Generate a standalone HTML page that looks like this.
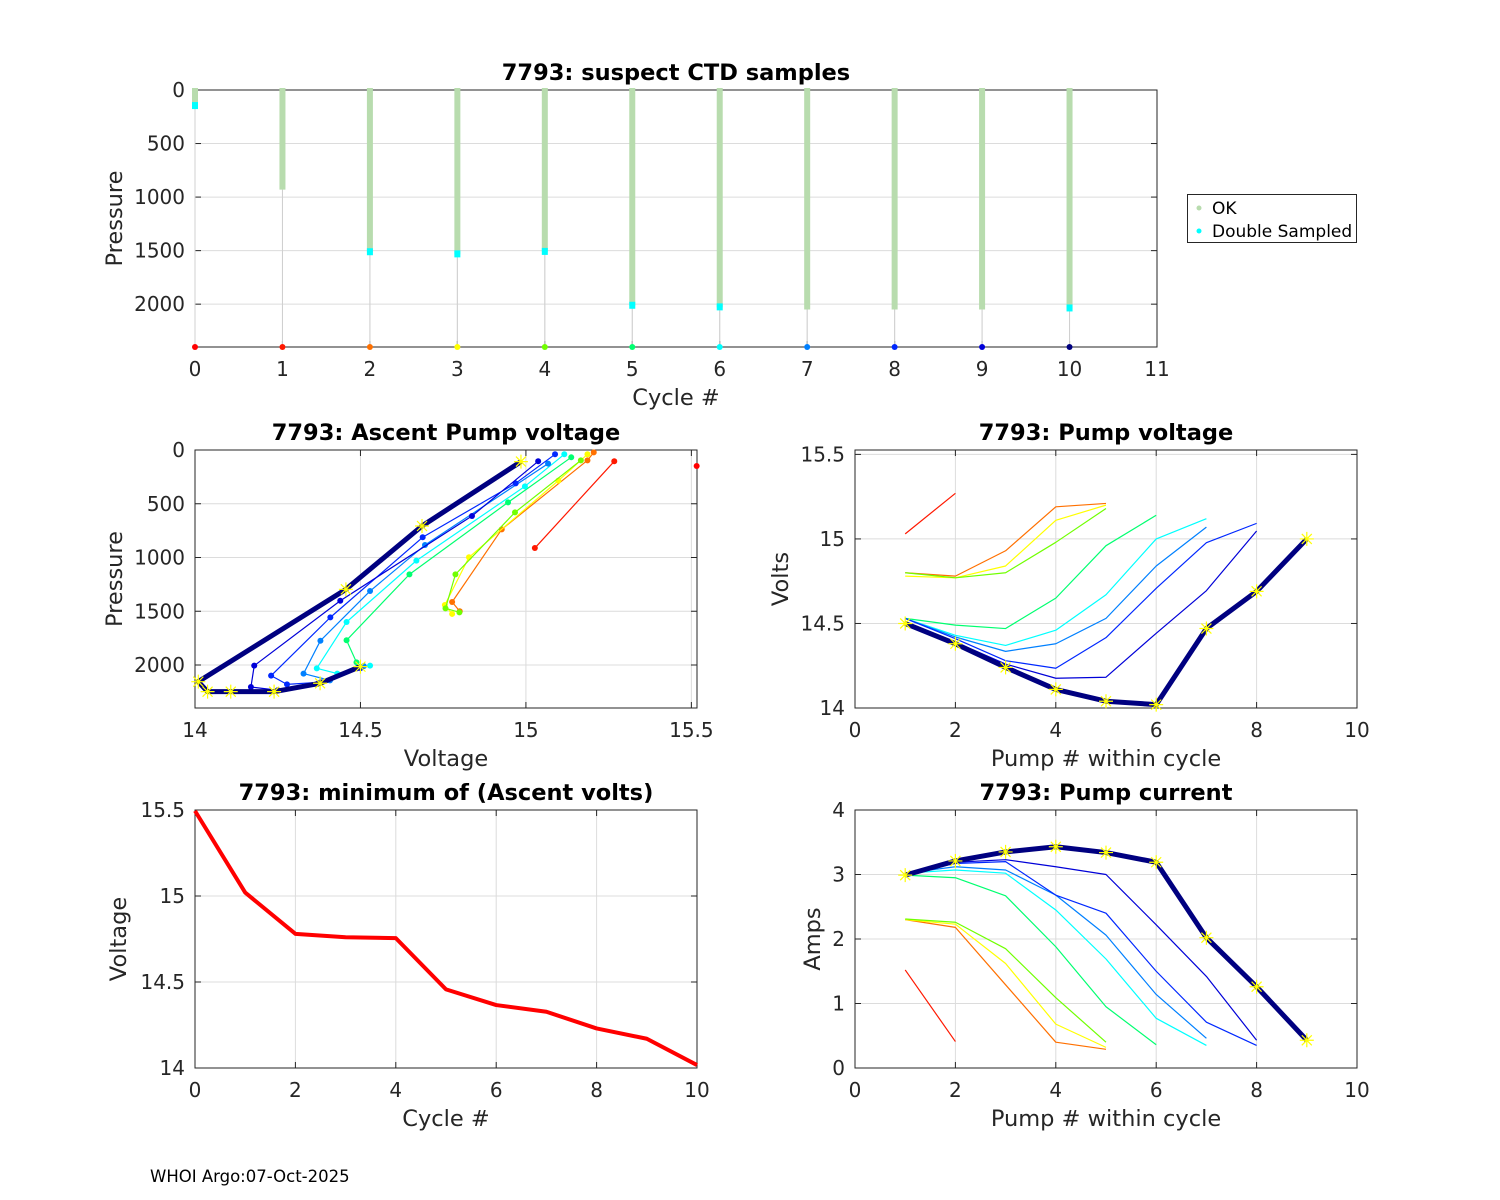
<!DOCTYPE html>
<html><head><meta charset="utf-8">
<style>
html,body{margin:0;padding:0;background:#fff;}
svg{display:block;font-family:"DejaVu Sans","Liberation Sans",sans-serif;}
</style></head>
<body>
<svg id="fig" width="1500" height="1200" viewBox="0 0 1500 1200" xmlns="http://www.w3.org/2000/svg">
<rect width="1500" height="1200" fill="#fff"/>
<text x="150" y="1182" font-size="16.5" fill="#000">WHOI Argo:07-Oct-2025</text>
</svg>
<script>
// ---------- data ----------
const cycles = [0,1,2,3,4,5,6,7,8,9,10];
const cycleColors = ['#ff0000','#ff1800','#ff7000','#ffff00','#70ff00','#00ff70','#00ffff','#0080ff','#0028ff','#0000d8','#000080'];
const okMaxP = [150,930,1515,1535,1512,2015,2030,2050,2050,2050,2040];
const dblP = [150,null,1515,1535,1512,2015,2030,null,null,null,2040];
const ascV = [
 [15.516],
 [15.027,15.267],
 [14.80,14.777,14.927,15.186,15.205],
 [14.777,14.755,14.828,15.098,15.186],
 [14.799,14.757,14.787,14.967,15.166],
 [14.50,14.488,14.458,14.648,14.946,15.137],
 [14.529,14.43,14.368,14.458,14.669,14.997,15.116],
 [14.51,14.408,14.328,14.379,14.529,14.695,15.067],
 [14.50,14.38,14.278,14.23,14.409,14.688,14.969,15.088],
 [14.49,14.37,14.25,14.169,14.179,14.439,14.837,15.037],
 [14.50,14.378,14.239,14.108,14.038,14.01,14.456,14.686,14.985]
];
const ascP = [
 [149],
 [912,105],
 [1500,1414,738,96,22],
 [1525,1442,998,285,40],
 [1510,1473,1157,580,96],
 [2020,1975,1770,1157,487,68],
 [2006,2080,2031,1600,1029,338,40],
 [2010,2143,2080,1774,1312,884,127],
 [2030,2160,2180,2099,1557,812,310,40],
 [2030,2175,2235,2205,2006,1402,614,105],
 [2015,2170,2248,2248,2248,2155,1296,707,108]
];
const pumpV = [
 [],
 [15.03,15.27],
 [14.80,14.78,14.93,15.19,15.21],
 [14.78,14.77,14.84,15.11,15.20],
 [14.80,14.77,14.80,14.98,15.18],
 [14.53,14.49,14.47,14.65,14.96,15.14],
 [14.53,14.43,14.37,14.46,14.67,15.00,15.12],
 [14.53,14.42,14.335,14.38,14.53,14.84,15.07],
 [14.53,14.41,14.28,14.235,14.416,14.708,14.978,15.092],
 [14.51,14.39,14.26,14.176,14.182,14.442,14.694,15.047],
 [14.50,14.38,14.24,14.11,14.04,14.02,14.47,14.69,15.00]
];
const pumpA = [
 [],
 [1.52,0.41],
 [2.30,2.18,1.29,0.40,0.29],
 [2.30,2.23,1.62,0.68,0.32],
 [2.31,2.26,1.85,1.09,0.40],
 [2.99,2.95,2.67,1.88,0.95,0.36],
 [3.02,3.07,3.02,2.45,1.69,0.77,0.35],
 [3.02,3.12,3.07,2.68,2.06,1.14,0.46],
 [3.02,3.17,3.20,2.68,2.40,1.50,0.71,0.35],
 [3.02,3.19,3.23,3.12,3.00,2.22,1.42,0.43],
 [2.99,3.21,3.35,3.43,3.34,3.19,2.02,1.26,0.43]
];
const minVolts = [15.495,15.02,14.78,14.76,14.755,14.457,14.366,14.327,14.23,14.17,14.017];
const pTicks = [0,500,1000,1500,2000];
const cycTicks = [0,1,2,3,4,5,6,7,8,9,10,11];
const voltTicks = [14,14.5,15,15.5];
const voltTickLabels = ['14','14.5','15','15.5'];
const pumpTicks = [0,2,4,6,8,10];
const ampTicks = [0,1,2,3,4];

// ---------- helpers ----------
const NS='http://www.w3.org/2000/svg';
const svg=document.getElementById('fig');
function mk(tag,attrs,parent){const e=document.createElementNS(NS,tag);for(const k in attrs)e.setAttribute(k,attrs[k]);(parent||svg).appendChild(e);return e;}
function axes(o){
  const g=mk('g',{});
  
  
  const sx=v=>o.x0+(v-o.xmin)/(o.xmax-o.xmin)*(o.x1-o.x0);
  const sy=o.rev?(v=>o.y0+(v-o.ymin)/(o.ymax-o.ymin)*(o.y1-o.y0)):(v=>o.y1-(v-o.ymin)/(o.ymax-o.ymin)*(o.y1-o.y0));
  o.xt.forEach(t=>{const x=sx(t);mk('line',{x1:x,x2:x,y1:o.y0,y2:o.y1,stroke:'#dcdcdc','stroke-width':1},g);});
  o.yt.forEach(t=>{const y=sy(t);mk('line',{x1:o.x0,x2:o.x1,y1:y,y2:y,stroke:'#dcdcdc','stroke-width':1},g);});
  const front=mk('g',{},g);
  mk('rect',{x:o.x0,y:o.y0,width:o.x1-o.x0,height:o.y1-o.y0,fill:'none',stroke:'#262626','stroke-width':1},front);
  const data=mk('g',{},g);
  o.xt.forEach((t,i)=>{const x=sx(t);
    mk('line',{x1:x,x2:x,y1:o.y1,y2:o.y1-6,stroke:'#262626'},front);
    mk('line',{x1:x,x2:x,y1:o.y0,y2:o.y0+6,stroke:'#262626'},front);
    const tx=mk('text',{x:x,y:o.y1+29,'font-size':20,'text-anchor':'middle',fill:'#262626'},front);
    
    
    tx.textContent=o.xl?o.xl[i]:String(t);});
  o.yt.forEach((t,i)=>{const y=sy(t);
    mk('line',{x1:o.x0,x2:o.x0+6,y1:y,y2:y,stroke:'#262626'},front);
    mk('line',{x1:o.x1,x2:o.x1-6,y1:y,y2:y,stroke:'#262626'},front);
    const tx=mk('text',{x:o.x0-10,y:y+7,'font-size':20,'text-anchor':'end',fill:'#262626'},front);
    
    
    tx.textContent=o.yl?o.yl[i]:String(t);});
  const ti=mk('text',{x:(o.x0+o.x1)/2,y:o.y0-10,'font-size':22.5,'font-weight':'bold','text-anchor':'middle',fill:'#000'},front);
  
  
  ti.textContent=o.title;
  const xlab=mk('text',{x:(o.x0+o.x1)/2,y:o.y1+58,'font-size':22.5,'text-anchor':'middle',fill:'#262626'},front);
  
  
  xlab.textContent=o.xlabel;
  const yc=(o.y0+o.y1)/2;
  const ylab=mk('text',{x:o.ylx,y:yc,'font-size':22.5,'text-anchor':'middle',fill:'#262626',transform:`rotate(-90 ${o.ylx} ${yc})`},front);
  
  
  ylab.textContent=o.ylabel;
  return {sx,sy,data};
}
function star(g,x,y){
  const s=7;const p=`M${x-s},${y}L${x+s},${y}M${x},${y-s}L${x},${y+s}M${x-5},${y-5}L${x+5},${y+5}M${x-5},${y+5}L${x+5},${y-5}`;
  const e=mk('path',{d:p,stroke:'#ffff00','stroke-width':1.2,fill:'none'},g);
  
  
}

// ---------- panel 1 ----------
const a1=axes({name:'suspect-ctd-chart',x0:195,x1:1157,y0:90,y1:347,xmin:0,xmax:11,ymin:0,ymax:2400,rev:true,xt:cycTicks,yt:pTicks,title:'7793: suspect CTD samples',xlabel:'Cycle #',ylabel:'Pressure',ylx:122});
cycles.forEach(c=>{
  const x=a1.sx(c);
  const gl=mk('line',{x1:x,x2:x,y1:a1.sy(okMaxP[c]),y2:a1.sy(2400),stroke:'#d0d0d0','stroke-width':1},a1.data);
  
  
  const b=mk('line',{x1:x,x2:x,y1:a1.sy(0)-2,y2:a1.sy(okMaxP[c]),stroke:'#b8dcae','stroke-width':6},a1.data);
  
  
  if(dblP[c]!==null){
    const d=mk('rect',{x:x-3,y:a1.sy(dblP[c])-4,width:6,height:7,fill:'#00ffff'},a1.data);
    
    
  }
  const dot=mk('circle',{cx:x,cy:a1.sy(2400),r:3,fill:cycleColors[c]},a1.data);
  
  
});
const lg=mk('g',{});


mk('rect',{x:1187.5,y:194.5,width:169,height:48,fill:'#fff',stroke:'#262626'},lg);
mk('circle',{cx:1199,cy:208,r:2.5,fill:'#b8dcae'},lg);
mk('circle',{cx:1199,cy:231,r:2.5,fill:'#00ffff'},lg);
const l1=mk('text',{x:1212,y:214,'font-size':17,fill:'#000'},lg);l1.textContent='OK';


const l2=mk('text',{x:1212,y:237,'font-size':17,fill:'#000'},lg);l2.textContent='Double Sampled';



// ---------- panel 2 ----------
const a2=axes({name:'ascent-pump-voltage-chart',x0:195,x1:697,y0:450,y1:708,xmin:14,xmax:15.517,ymin:0,ymax:2400,rev:true,xt:voltTicks,xl:voltTickLabels,yt:pTicks,title:'7793: Ascent Pump voltage',xlabel:'Voltage',ylabel:'Pressure',ylx:122});
cycles.forEach(c=>{
  const pts=ascV[c].map((v,i)=>[a2.sx(v),a2.sy(ascP[c][i])]);
  const thick=c===10;
  if(pts.length>1){
    const pl=mk('polyline',{points:pts.map(p=>p.join(',')).join(' '),fill:'none',stroke:cycleColors[c],'stroke-width':thick?5:1.2,'stroke-linejoin':'round'},a2.data);
    
    
  }
  pts.forEach(p=>{ if(thick) star(a2.data,p[0],p[1]); else {
    const d=mk('circle',{cx:p[0],cy:p[1],r:3,fill:cycleColors[c]},a2.data);
    
    }});
});

// ---------- panel 3 ----------
const a3=axes({name:'pump-voltage-chart',x0:855,x1:1357,y0:450,y1:708,xmin:0,xmax:10,ymin:14,ymax:15.526,rev:false,xt:pumpTicks,yt:voltTicks,yl:voltTickLabels,title:'7793: Pump voltage',xlabel:'Pump # within cycle',ylabel:'Volts',ylx:788});
cycles.forEach(c=>{
  if(pumpV[c].length<2)return;
  const pts=pumpV[c].map((v,i)=>[a3.sx(i+1),a3.sy(v)]);
  const thick=c===10;
  const pl=mk('polyline',{points:pts.map(p=>p.join(',')).join(' '),fill:'none',stroke:cycleColors[c],'stroke-width':thick?5:1.2,'stroke-linejoin':'round'},a3.data);
  
  
  if(thick)pts.forEach(p=>star(a3.data,p[0],p[1]));
});

// ---------- panel 4 ----------
const a4=axes({name:'min-ascent-volts-chart',x0:195,x1:697,y0:810,y1:1068,xmin:0,xmax:10,ymin:14,ymax:15.5,rev:false,xt:pumpTicks,yt:voltTicks,yl:voltTickLabels,title:'7793: minimum of (Ascent volts)',xlabel:'Cycle #',ylabel:'Voltage',ylx:126});
{
  const pts=minVolts.map((v,i)=>[a4.sx(cycles[i]),a4.sy(v)]);
  const pl=mk('polyline',{points:pts.map(p=>p.join(',')).join(' '),fill:'none',stroke:'#ff0000','stroke-width':4,'stroke-linejoin':'round'},a4.data);
  
  
}

// ---------- panel 5 ----------
const a5=axes({name:'pump-current-chart',x0:855,x1:1357,y0:810,y1:1068,xmin:0,xmax:10,ymin:0,ymax:4,rev:false,xt:pumpTicks,yt:ampTicks,title:'7793: Pump current',xlabel:'Pump # within cycle',ylabel:'Amps',ylx:820});
cycles.forEach(c=>{
  if(pumpA[c].length<2)return;
  const pts=pumpA[c].map((v,i)=>[a5.sx(i+1),a5.sy(v)]);
  const thick=c===10;
  const pl=mk('polyline',{points:pts.map(p=>p.join(',')).join(' '),fill:'none',stroke:cycleColors[c],'stroke-width':thick?5:1.2,'stroke-linejoin':'round'},a5.data);
  
  
  if(thick)pts.forEach(p=>star(a5.data,p[0],p[1]));
});
</script>
</body></html>
